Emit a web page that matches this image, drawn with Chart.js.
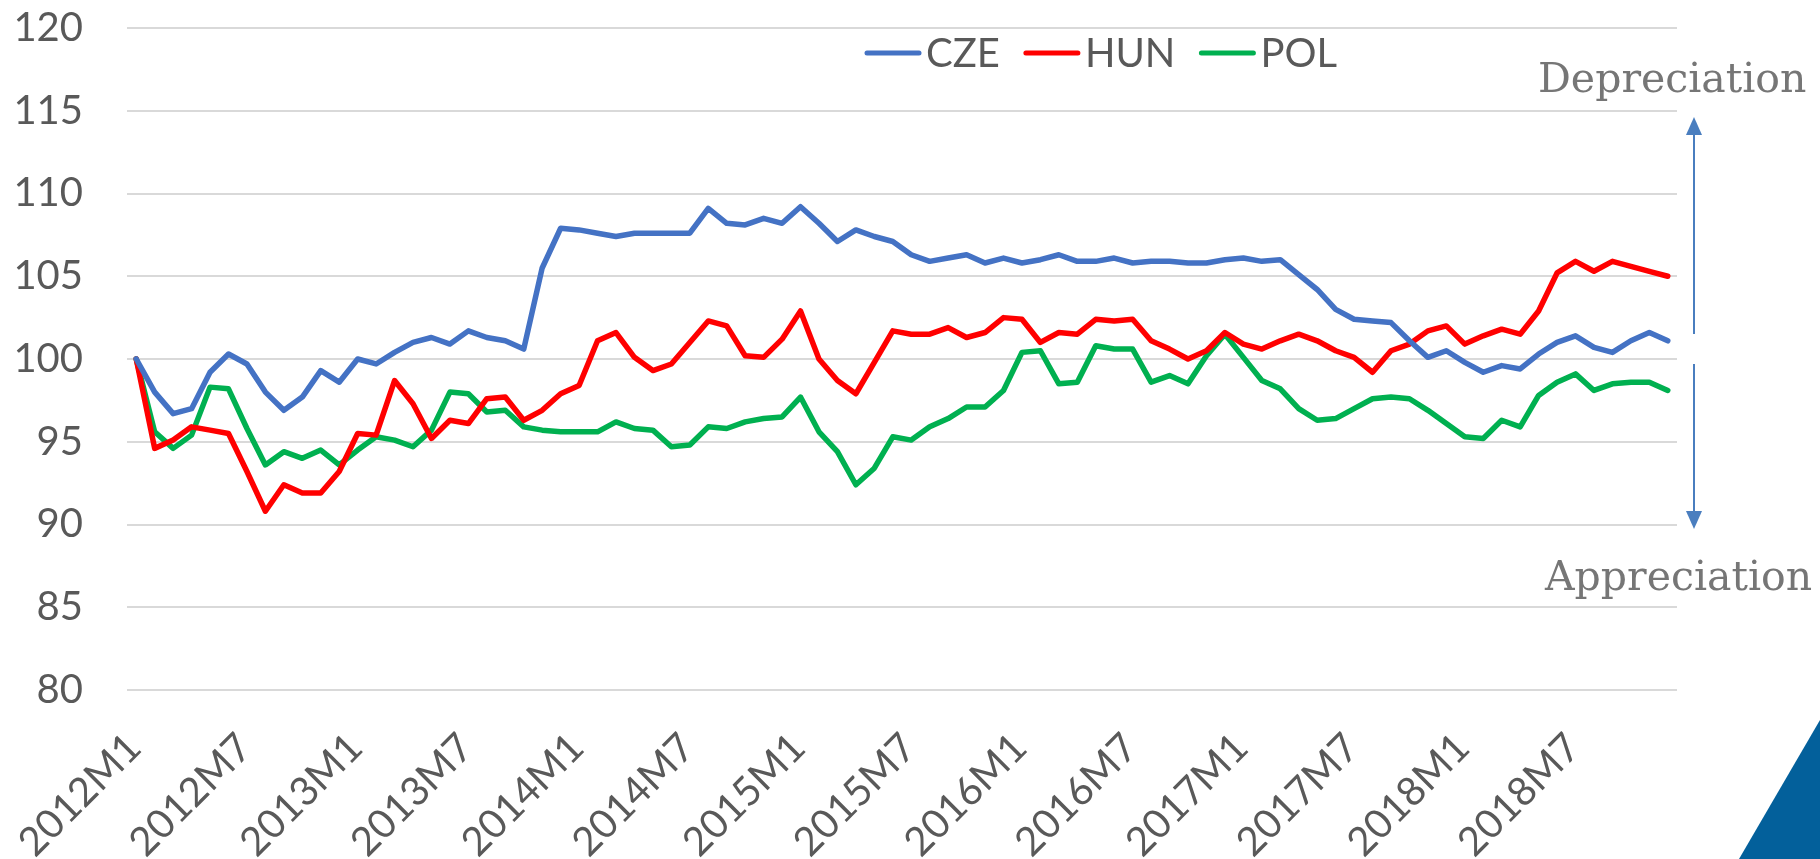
<!DOCTYPE html>
<html>
<head>
<meta charset="utf-8">
<script src="https://cdn.jsdelivr.net/npm/chart.js@4.4.1/dist/chart.umd.min.js"></script>
<style>
  html, body { margin: 0; padding: 0; background: #fff; }
  #wrap { position: relative; width: 1820px; height: 859px; overflow: hidden; }
  #corner {
    position: absolute; right: 0; bottom: 0; width: 81px; height: 139px;
    background: #03609b; clip-path: polygon(100% 0, 100% 100%, 0 100%);
  }
</style>
</head>
<body>
<div id="wrap">
  <canvas id="rerChart" width="1820" height="859"></canvas>
  <div id="corner"></div>
</div>
<script>
// monthly labels 2012M1 .. 2018M12
const months = [];
for (let y = 2012; y <= 2018; y++) {
  for (let m = 1; m <= 12; m++) months.push(y + "M" + m);
}

// index, 2012M1 = 100
const cze = [
  100, 98.0, 96.7, 97.0, 99.2, 100.3, 99.7, 98.0, 96.9, 97.7, 99.3, 98.6,
  100.0, 99.7, 100.4, 101.0, 101.3, 100.9, 101.7, 101.3, 101.1, 100.6, 105.5, 107.9,
  107.8, 107.6, 107.4, 107.6, 107.6, 107.6, 107.6, 109.1, 108.2, 108.1, 108.5, 108.2,
  109.2, 108.2, 107.1, 107.8, 107.4, 107.1, 106.3, 105.9, 106.1, 106.3, 105.8, 106.1,
  105.8, 106.0, 106.3, 105.9, 105.9, 106.1, 105.8, 105.9, 105.9, 105.8, 105.8, 106.0,
  106.1, 105.9, 106.0, 105.1, 104.2, 103.0, 102.4, 102.3, 102.2, 101.1, 100.1, 100.5,
  99.8, 99.2, 99.6, 99.4, 100.3, 101.0, 101.4, 100.7, 100.4, 101.1, 101.6, 101.1
];
const hun = [
  100, 94.6, 95.1, 95.9, 95.7, 95.5, 93.2, 90.8, 92.4, 91.9, 91.9, 93.2,
  95.5, 95.4, 98.7, 97.3, 95.2, 96.3, 96.1, 97.6, 97.7, 96.3, 96.9, 97.9,
  98.4, 101.1, 101.6, 100.1, 99.3, 99.7, 101.0, 102.3, 102.0, 100.2, 100.1, 101.2,
  102.9, 100.0, 98.7, 97.9, 99.8, 101.7, 101.5, 101.5, 101.9, 101.3, 101.6, 102.5,
  102.4, 101.0, 101.6, 101.5, 102.4, 102.3, 102.4, 101.1, 100.6, 100.0, 100.5, 101.6,
  100.9, 100.6, 101.1, 101.5, 101.1, 100.5, 100.1, 99.2, 100.5, 100.9, 101.7, 102.0,
  100.9, 101.4, 101.8, 101.5, 102.9, 105.2, 105.9, 105.3, 105.9, 105.6, 105.3, 105.0
];
const pol = [
  100, 95.6, 94.6, 95.4, 98.3, 98.2, 95.8, 93.6, 94.4, 94.0, 94.5, 93.6,
  94.5, 95.3, 95.1, 94.7, 95.7, 98.0, 97.9, 96.8, 96.9, 95.9, 95.7, 95.6,
  95.6, 95.6, 96.2, 95.8, 95.7, 94.7, 94.8, 95.9, 95.8, 96.2, 96.4, 96.5,
  97.7, 95.6, 94.4, 92.4, 93.4, 95.3, 95.1, 95.9, 96.4, 97.1, 97.1, 98.1,
  100.4, 100.5, 98.5, 98.6, 100.8, 100.6, 100.6, 98.6, 99.0, 98.5, 100.2, 101.5,
  100.1, 98.7, 98.2, 97.0, 96.3, 96.4, 97.0, 97.6, 97.7, 97.6, 96.9, 96.1,
  95.3, 95.2, 96.3, 95.9, 97.8, 98.6, 99.1, 98.1, 98.5, 98.6, 98.6, 98.1
];

const axisFont = { family: "Lato", size: 40 };
const textGray = "#595959";

// legend and the appreciation / depreciation notes
const notesPlugin = {
  id: "notes",
  afterDraw(chart) {
    const ctx = chart.ctx;
    ctx.save();

    // legend
    ctx.font = "40px Lato";
    ctx.textBaseline = "alphabetic";
    ctx.lineCap = "round";
    let x = 865;
    chart.data.datasets.forEach(ds => {
      ctx.strokeStyle = ds.borderColor;
      ctx.lineWidth = 5;
      ctx.beginPath();
      ctx.moveTo(x + 2, 53);
      ctx.lineTo(x + 54, 53);
      ctx.stroke();
      x += 61;
      ctx.fillStyle = textGray;
      ctx.fillText(ds.label, x, 67);
      x += ctx.measureText(ds.label).width + 24;
    });

    // notes on the right
    ctx.fillStyle = "#767676";
    ctx.font = "41px 'DejaVu Serif'";
    ctx.fillText("Depreciation", 1538, 92);
    ctx.fillText("Appreciation", 1545, 590);

    const ax = 1694;
    ctx.strokeStyle = "#4a7ebf";
    ctx.fillStyle = "#4a7ebf";
    ctx.lineWidth = 2;
    ctx.lineCap = "butt";
    ctx.beginPath();
    ctx.moveTo(ax, 334); ctx.lineTo(ax, 130);
    ctx.moveTo(ax, 364); ctx.lineTo(ax, 516);
    ctx.stroke();
    ctx.beginPath();
    ctx.moveTo(ax, 117); ctx.lineTo(ax - 8, 135); ctx.lineTo(ax + 8, 135);
    ctx.closePath(); ctx.fill();
    ctx.beginPath();
    ctx.moveTo(ax, 529); ctx.lineTo(ax - 8, 511); ctx.lineTo(ax + 8, 511);
    ctx.closePath(); ctx.fill();

    ctx.restore();
  }
};

function line(label, data, color) {
  return {
    label: label,
    data: data,
    borderColor: color,
    backgroundColor: color,
    borderWidth: 5.5,
    pointRadius: 0,
    tension: 0,
    fill: false,
    borderJoinStyle: "round",
    borderCapStyle: "round"
  };
}

new Chart(document.getElementById("rerChart"), {
  type: "line",
  data: {
    labels: months,
    datasets: [
      line("CZE", cze, "#4472c4"),
      line("HUN", hun, "#ff0000"),
      line("POL", pol, "#00b050")
    ]
  },
  options: {
    responsive: false,
    animation: false,
    devicePixelRatio: 1,
    layout: { padding: { left: 0, right: 143, top: 28, bottom: 0 } },
    plugins: {
      legend: { display: false },
      tooltip: { enabled: false }
    },
    scales: {
      x: {
        offset: true,
        grid: { display: false, drawTicks: false },
        border: { display: false },
        ticks: {
          autoSkip: false,
          minRotation: 45,
          maxRotation: 45,
          padding: 34,
          labelOffset: -2,
          color: textGray,
          font: axisFont,
          callback: function (value, index) {
            return index % 6 === 0 ? this.getLabelForValue(value) : "";
          }
        },
        afterFit: s => {
          s.height = 169;
          s.paddingLeft = 0;
          s.paddingRight = 0;
        }
      },
      y: {
        min: 80,
        max: 120,
        grid: { color: "#d9d9d9", lineWidth: 2, drawTicks: false },
        border: { display: false },
        ticks: { stepSize: 5, padding: 44, color: textGray, font: axisFont },
        afterFit: s => {
          s.width = 127;
          s.paddingTop = 0;
          s.paddingBottom = 0;
        }
      }
    }
  },
  plugins: [notesPlugin]
});
</script>
</body>
</html>
